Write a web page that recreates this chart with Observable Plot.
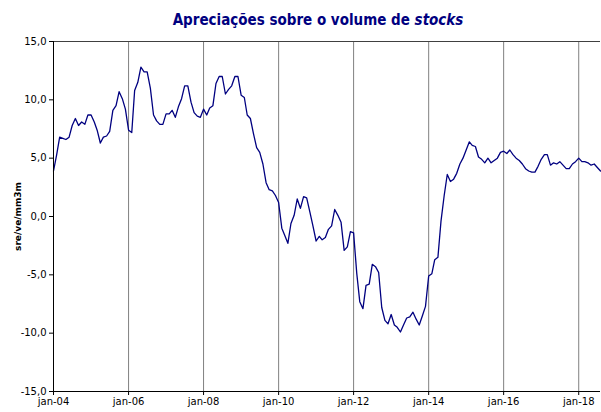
<!DOCTYPE html>
<html>
<head>
<meta charset="utf-8">
<script src="https://cdn.jsdelivr.net/npm/d3@7"></script>
<script src="https://cdn.jsdelivr.net/npm/@observablehq/plot@0.6"></script>
<style>
  body { margin: 0; background: #fff; width: 601px; height: 412px; overflow: hidden; }
  #title { box-sizing: border-box; width: 601px; height: 32px; padding-top: 11px; padding-left: 35px;
    line-height: 18px; text-align: center; font-family: "DejaVu Sans Condensed", "DejaVu Sans", sans-serif;
    font-weight: bold; font-size: 15px; color: #000080; }
</style>
</head>
<body>
<div id="title">Apreciações sobre o volume de <i>stocks</i></div>
<div id="chart"></div>
<script>
const startYear = 2004;
const startMonth = 0;
const values = [
  3.9, 5.3, 6.8, 6.7, 6.6, 6.8, 7.8, 8.4, 7.8, 8.1, 7.9, 8.7,
  8.7, 8.1, 7.4, 6.3, 6.8, 6.9, 7.3, 9.1, 9.5, 10.7, 10.1, 9.2,
  7.4, 7.2, 10.8, 11.5, 12.8, 12.4, 12.4, 11.0, 8.7, 8.2, 7.9, 7.9,
  8.8, 8.8, 9.1, 8.5, 9.4, 10.1, 11.2, 11.2, 9.8, 8.9, 8.6, 8.5,
  9.2, 8.7, 9.3, 9.5, 11.4, 12.0, 12.0, 10.5, 10.9, 11.2, 12.0, 12.0,
  10.4, 10.2, 8.7, 8.4, 7.1, 5.9, 5.5, 4.5, 2.9, 2.3, 2.2, 1.8,
  1.2, -1.0, -1.6, -2.3, -0.6, 0.1, 1.5, 0.7, 1.7, 1.6, 0.4, -0.8,
  -2.1, -1.7, -2.0, -1.8, -1.1, -0.8, 0.6, 0.1, -0.5, -2.9, -2.6, -1.3,
  -1.4, -4.9, -7.3, -7.9, -5.9, -5.8, -4.1, -4.3, -4.8, -7.8, -8.9, -9.2,
  -8.4, -9.3, -9.5, -9.9, -9.3, -8.7, -8.6, -8.2, -8.8, -9.3, -8.5, -7.7,
  -5.1, -4.9, -3.7, -3.5, -0.4, 1.8, 3.6, 3.0, 3.2, 3.7, 4.5, 5.0,
  5.7, 6.4, 6.1, 6.0, 5.1, 4.9, 4.6, 5.0, 4.6, 4.8, 5.0, 5.5,
  5.6, 5.4, 5.7, 5.3, 5.0, 4.8, 4.5, 4.1, 3.9, 3.8, 3.8, 4.3,
  4.9, 5.3, 5.3, 4.4, 4.6, 4.5, 4.7, 4.4, 4.1, 4.1, 4.5, 4.7,
  5.0, 4.7, 4.7, 4.6, 4.4, 4.5, 4.2, 3.9
];
const tickYears = [2004, 2006, 2008, 2010, 2012, 2014, 2016, 2018];
const yTicks = [-15, -10, -5, 0, 5, 10, 15];
const yLabel = "sre/ve/mm3m";

const dates = values.map((v, i) => new Date(Date.UTC(startYear, startMonth + i, 1)));
const data = values.map((v, i) => ({date: dates[i], value: v}));
const tickDates = tickYears.map(y => new Date(Date.UTC(y, 0, 1)));

const chart = Plot.plot({
  width: 601, height: 380,
  marginTop: 9, marginBottom: 21, marginLeft: 53, marginRight: 1,
  style: {fontFamily: "DejaVu Sans, sans-serif", fontSize: "10px", color: "#000", background: "#fff"},
  x: {type: "utc", domain: [dates[0], dates[dates.length - 1]]},
  y: {domain: [-15, 15]},
  marks: [
    Plot.ruleX(tickDates, {stroke: "#808080", strokeWidth: 1}),
    Plot.ruleY([15], {stroke: "#404040", strokeWidth: 1}),
    Plot.line(data, {x: "date", y: "value", stroke: "#000080", strokeWidth: 1.3}),
    Plot.axisX({ticks: tickDates, tickFormat: d => "jan-" + String(d.getUTCFullYear()).slice(2),
      tickSize: 4, tickPadding: 2, label: null}),
    Plot.axisY({ticks: yTicks, tickFormat: d => d.toFixed(1).replace(".", ","),
      tickSize: 4, tickPadding: 3, label: null}),
    Plot.ruleX([dates[0]], {stroke: "#000", strokeWidth: 1}),
    Plot.ruleY([-15], {stroke: "#000", strokeWidth: 1}),
    Plot.text([yLabel], {frameAnchor: "left", textAnchor: "middle", dx: -35, rotate: -90,
      fontWeight: "bold", fontSize: 9, fill: "#000"})
  ]
});
document.getElementById("chart").appendChild(chart);
</script>
</body>
</html>
